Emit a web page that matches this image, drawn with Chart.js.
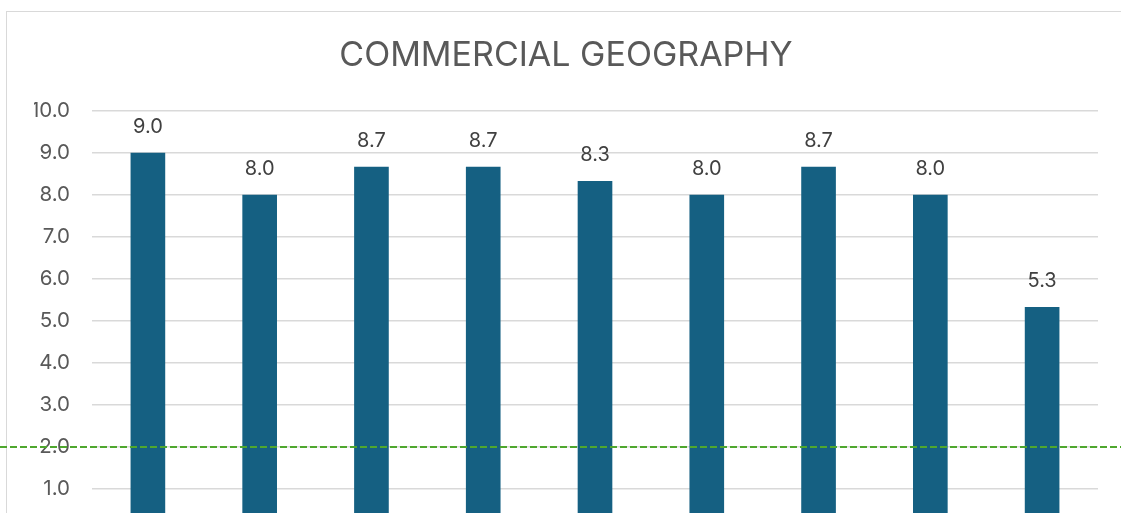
<!DOCTYPE html>
<html>
<head>
<meta charset="utf-8">
<script src="https://cdn.jsdelivr.net/npm/chart.js@4.4.1/dist/chart.umd.min.js"></script>
<style>
    html, body { margin: 0; padding: 0; background: #fff; overflow: hidden; width: 1121px; height: 513px; }
    #frame { position: absolute; left: 6px; top: 11px; width: 1300px; height: 700px; border: 1.5px solid #d9d9d9; }
    #wrap { position: absolute; left: 0; top: 0; width: 1121px; height: 571px; }
</style>
</head>
<body>
<div id="frame"></div>
<div id="wrap"><canvas id="geoChart"></canvas></div>
<script>
// commercial geography scores, bar chart with 2.0 threshold line

const categories = ['Site 1', 'Site 2', 'Site 3', 'Site 4', 'Site 5', 'Site 6', 'Site 7', 'Site 8', 'Site 9'];
const scores = [9.0, 8.0, 8.67, 8.67, 8.33, 8.0, 8.67, 8.0, 5.33];
const yTicks = [0, 1, 2, 3, 4, 5, 6, 7, 8, 9, 10];
const threshold = 2.0;

const FONT = "'Inter', 'Liberation Sans', sans-serif";

// value labels over each bar
const barLabels = {
    id: 'barLabels',
    afterDatasetsDraw(chart) {
        const ctx = chart.ctx;
        const meta = chart.getDatasetMeta(0);
        ctx.save();
        ctx.fillStyle = '#404040';
        ctx.font = '20px ' + FONT;
        ctx.textAlign = 'center';
        ctx.textBaseline = 'middle';
        meta.data.forEach((bar, i) => {
            ctx.fillText(scores[i].toFixed(1), bar.x, bar.y - 26);
        });
        ctx.restore();
    }
};

// green dashed target line, runs the full width
const targetLine = {
    id: 'targetLine',
    afterDatasetsDraw(chart) {
        const ctx = chart.ctx;
        const y = chart.scales.y.getPixelForValue(threshold);
        ctx.save();
        ctx.strokeStyle = '#4ea72e';
        ctx.lineWidth = 2;
        ctx.setLineDash([7, 3]);
        ctx.beginPath();
        ctx.moveTo(0, y);
        ctx.lineTo(chart.width, y);
        ctx.stroke();
        ctx.restore();
    }
};

const ctx = document.getElementById('geoChart').getContext('2d');
new Chart(ctx, {
    type: 'bar',
    data: {
        labels: categories,
        datasets: [{
            data: scores,
            backgroundColor: '#156082',
            barPercentage: 0.62,
            categoryPercentage: 0.5
        }]
    },
    options: {
        responsive: true,
        maintainAspectRatio: false,
        animation: false,
        layout: { padding: { left: 34, right: 23, top: 0, bottom: 0 } },
        scales: {
            x: {
                grid: { display: false },
                border: { display: false },
                ticks: { color: '#595959', font: { family: FONT, size: 20 } },
                afterFit(scale) { scale.height = 40; }
            },
            y: {
                min: 0,
                max: 10,
                afterBuildTicks(scale) { scale.ticks = yTicks.map(v => ({ value: v })); },
                grid: { color: '#d9d9d9', lineWidth: 1.5, drawTicks: false },
                border: { display: false },
                ticks: {
                    color: '#595959',
                    padding: 22,
                    font: { family: FONT, size: 20.5 },
                    callback: v => v.toFixed(1)
                },
                afterFit(scale) { scale.width = 58; }
            }
        },
        plugins: {
            legend: { display: false },
            tooltip: { enabled: false },
            title: {
                display: true,
                text: 'COMMERCIAL GEOGRAPHY',
                color: '#595959',
                font: { family: FONT, size: 34, weight: 'normal' },
                padding: { top: 35, bottom: 35 }
            }
        }
    },
    plugins: [barLabels, targetLine]
});
</script>
</body>
</html>
